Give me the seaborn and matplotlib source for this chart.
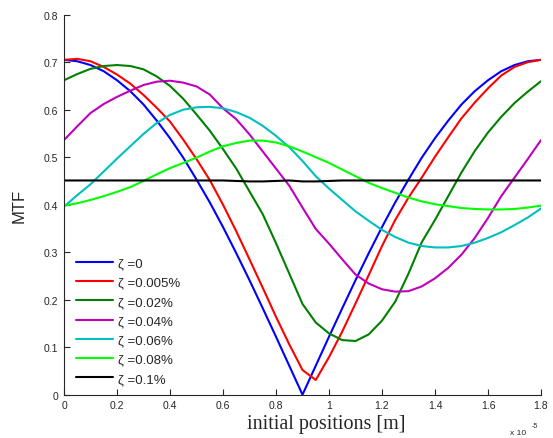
import numpy as np
import pandas as pd
import matplotlib
matplotlib.use("Agg")
import matplotlib.pyplot as plt
import seaborn as sns

# x positions (units of 1e-5 m)
x_pos = [0.00, 0.05, 0.10, 0.15, 0.20, 0.25, 0.30, 0.35, 0.40, 0.45,
         0.50, 0.55, 0.60, 0.65, 0.70, 0.75, 0.80, 0.85, 0.90, 0.95,
         1.00, 1.05, 1.10, 1.15, 1.20, 1.25, 1.30, 1.35, 1.40, 1.45,
         1.50, 1.55, 1.60, 1.65, 1.70, 1.75, 1.80]

mtf_0 = [0.705, 0.702, 0.694, 0.681, 0.662, 0.639, 0.611, 0.577, 0.540, 0.499,
         0.453, 0.405, 0.353, 0.298, 0.241, 0.182, 0.122, 0.061, 0.000, 0.061,
         0.122, 0.182, 0.241, 0.298, 0.353, 0.405, 0.453, 0.499, 0.540, 0.577,
         0.611, 0.639, 0.662, 0.681, 0.694, 0.702, 0.705]

mtf_0005 = [0.705, 0.707, 0.702, 0.690, 0.674, 0.655, 0.631, 0.604, 0.575, 0.537,
            0.496, 0.452, 0.400, 0.344, 0.285, 0.225, 0.164, 0.106, 0.052, 0.031,
            0.079, 0.133, 0.192, 0.252, 0.313, 0.368, 0.415, 0.457, 0.501, 0.542,
            0.582, 0.615, 0.645, 0.672, 0.690, 0.700, 0.705]

mtf_002 = [0.662, 0.675, 0.686, 0.692, 0.694, 0.692, 0.685, 0.670, 0.650, 0.623,
           0.590, 0.556, 0.517, 0.476, 0.428, 0.380, 0.319, 0.255, 0.191, 0.152,
           0.129, 0.115, 0.113, 0.127, 0.156, 0.196, 0.255, 0.321, 0.368, 0.418,
           0.468, 0.513, 0.552, 0.585, 0.614, 0.638, 0.660]

mtf_004 = [0.536, 0.565, 0.593, 0.612, 0.627, 0.640, 0.652, 0.659, 0.661, 0.657,
           0.649, 0.632, 0.603, 0.580, 0.548, 0.512, 0.476, 0.440, 0.394, 0.349,
           0.318, 0.285, 0.253, 0.234, 0.222, 0.217, 0.218, 0.228, 0.245, 0.267,
           0.295, 0.330, 0.372, 0.418, 0.457, 0.496, 0.536]

mtf_006 = [0.396, 0.420, 0.443, 0.470, 0.497, 0.523, 0.549, 0.572, 0.589, 0.600,
           0.605, 0.606, 0.603, 0.595, 0.583, 0.566, 0.545, 0.521, 0.492, 0.460,
           0.434, 0.410, 0.386, 0.366, 0.347, 0.332, 0.320, 0.313, 0.310, 0.310,
           0.313, 0.320, 0.330, 0.342, 0.357, 0.373, 0.392]

mtf_008 = [0.398, 0.403, 0.410, 0.418, 0.427, 0.437, 0.450, 0.464, 0.477, 0.488,
           0.499, 0.512, 0.523, 0.530, 0.535, 0.535, 0.531, 0.523, 0.512, 0.500,
           0.488, 0.474, 0.460, 0.446, 0.435, 0.425, 0.415, 0.407, 0.401, 0.397,
           0.393, 0.391, 0.390, 0.390, 0.391, 0.394, 0.398]

mtf_01 = [0.451, 0.451, 0.451, 0.451, 0.451, 0.451, 0.451, 0.451, 0.451, 0.451,
          0.451, 0.451, 0.451, 0.450, 0.449, 0.449, 0.450, 0.451, 0.449, 0.449,
          0.450, 0.451, 0.451, 0.451, 0.451, 0.451, 0.451, 0.451, 0.451, 0.451,
          0.451, 0.451, 0.451, 0.451, 0.451, 0.451, 0.451]

series_labels = ["ζ =0", "ζ =0.005%", "ζ =0.02%", "ζ =0.04%",
                 "ζ =0.06%", "ζ =0.08%", "ζ =0.1%"]
series_values = [mtf_0, mtf_0005, mtf_002, mtf_004, mtf_006, mtf_008, mtf_01]
series_colors = ["#0000FF", "#FF0000", "#008000", "#BF00BF",
                 "#00BFBF", "#00FF00", "#000000"]

x_ticks = [0, 0.2, 0.4, 0.6, 0.8, 1.0, 1.2, 1.4, 1.6, 1.8]
x_tick_labels = ["0", "0.2", "0.4", "0.6", "0.8", "1", "1.2", "1.4", "1.6", "1.8"]
y_ticks = [0, 0.1, 0.2, 0.3, 0.4, 0.5, 0.6, 0.7, 0.8]
y_tick_labels = ["0", "0.1", "0.2", "0.3", "0.4", "0.5", "0.6", "0.7", "0.8"]

rows = []
for lab, vals in zip(series_labels, series_values):
    for xv, yv in zip(x_pos, vals):
        rows.append({"x": xv, "MTF": yv, "series": lab})
df = pd.DataFrame(rows)

sns.set_style("white")
plt.rcParams["font.family"] = ["Liberation Sans", "DejaVu Sans"]

fig = plt.figure(figsize=(5.53, 4.39), dpi=100)
ax = fig.add_axes([64 / 553, 1 - 395.7 / 439, 477 / 553, 380 / 439])

sns.lineplot(data=df, x="x", y="MTF", hue="series", hue_order=series_labels,
             palette=dict(zip(series_labels, series_colors)),
             linewidth=1.5, ax=ax, sort=False)

ax.set_xlim(0, 1.8)
ax.set_ylim(0, 0.8)
ax.set_xticks(x_ticks)
ax.set_xticklabels(x_tick_labels)
ax.set_yticks(y_ticks)
ax.set_yticklabels(y_tick_labels)
ax.tick_params(axis="both", direction="in", length=4, width=0.8,
               labelsize=7.5, colors="#262626", pad=4,
               bottom=True, left=True, top=False, right=False)
for s in ["top", "right"]:
    ax.spines[s].set_visible(False)
for s in ["left", "bottom"]:
    ax.spines[s].set_color("#262626")
    ax.spines[s].set_linewidth(0.8)

ax.set_ylabel("MTF", fontsize=12, family=["Liberation Sans"])
ax.yaxis.set_label_coords(-0.078, 0.5)
ax.set_xlabel("initial positions [m]", fontsize=14.5, family=["Liberation Serif"])
ax.xaxis.set_label_coords(0.55, -0.052)

fig.text(510 / 553, 1 - 435 / 439, "x 10", fontsize=6, ha="left", va="baseline")
fig.text(532 / 553, 1 - 428 / 439, "-5", fontsize=5, ha="left", va="baseline")

sns.move_legend(ax, "lower left", bbox_to_anchor=(0.015, 0.012), frameon=False,
                title=None, fontsize=9.5, handlelength=2.8, handletextpad=0.35,
                labelspacing=0.53, borderaxespad=0)

fig.savefig("out.png", dpi=100)
